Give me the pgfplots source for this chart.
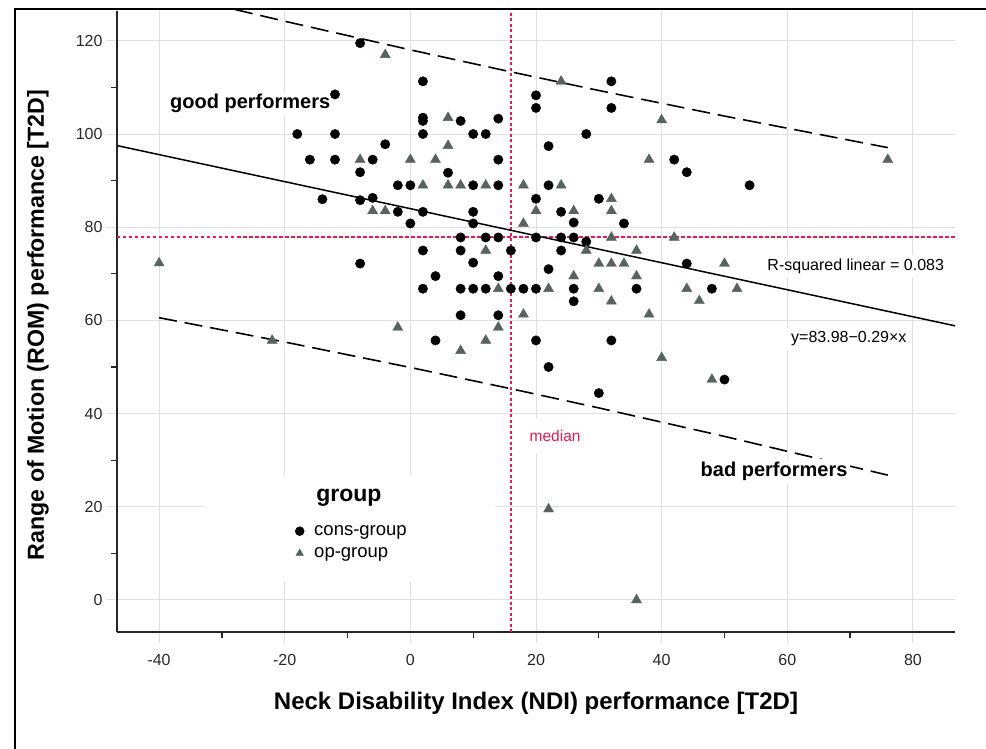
\documentclass[border=0pt]{standalone}
\usepackage{fontspec}
\setmainfont{Liberation Sans}
\usepackage{pgfplots}
\pgfplotsset{compat=1.18}
\definecolor{tri}{RGB}{86,99,94}
\definecolor{medred}{RGB}{235,25,80}
\definecolor{gridc}{RGB}{224,224,224}
\definecolor{tickc}{RGB}{40,40,40}
\pgfplotsset{
  legcirc/.style={legend image code/.code={\draw[##1, mark size=4.5bp] plot coordinates {(0bp,0bp)};}},
  legtri/.style={legend image code/.code={\draw[##1, mark size=4.3bp] plot coordinates {(0bp,0bp)};}},
}
\begin{document}
\begin{tikzpicture}
\path[use as bounding box] (-117bp,-117bp) rectangle (869bp,632bp);
\draw[black, line width=2bp] (-102bp,-130bp) -- (-102bp,623bp) -- (880bp,623bp);
\begin{axis}[
  at={(0,0)}, anchor=south west,
  scale only axis, width=838bp, height=621bp,
  xmin=-46.7, xmax=86.7, ymin=-6.87, ymax=126.4,
  axis x line*=bottom, axis y line*=left,
  axis line style={black!85, line width=1.4bp},
  xtick={-40,-20,...,80}, ytick={0,20,...,120},
  minor xtick={-30,-10,...,70}, minor ytick={10,30,...,110},
  tick align=outside,
  major tick length=11bp, minor tick length=6bp,
  major tick style={gridc, line width=1bp},
  minor tick style={black!85, line width=1.2bp},
  grid=major, major grid style={gridc, line width=1bp},
  /pgf/number format/assume math mode=true,
  ticklabel style={font=\fontsize{16bp}{19bp}\selectfont, text=tickc},
  xticklabel style={yshift=-8bp},
  xlabel={Neck Disability Index (NDI) performance [T2D]},
  ylabel={Range of Motion (ROM) performance [T2D]},
  every axis x label/.style={at={(rel axis cs:0.5,0)}, yshift=-71bp, anchor=center, font=\fontsize{24bp}{28bp}\selectfont\bfseries},
  every axis y label/.style={at={(rel axis cs:0,0.5)}, xshift=-79bp, yshift=-3.5bp, rotate=90, anchor=center, font=\fontsize{23.2bp}{27bp}\selectfont\bfseries},
  legend style={at={(axis cs:-18.36,12.4)}, anchor=west, draw=none, fill=none,
    inner sep=0pt, row sep=5bp, column sep=10bp,
    nodes={inner sep=0pt, text height=13bp, text depth=4bp},
    font=\fontsize{18.5bp}{22bp}\selectfont},
  legend cell align=left,
  clip=true,
]
% legend background
\fill[white] (axis cs:-32.7,3.9) rectangle (axis cs:13.5,26.8);
% right frame line
\draw[gridc, line width=1bp] (rel axis cs:1,0) -- (rel axis cs:1,1);
% median lines
\addplot[draw=medred, line width=1.7bp, dash pattern=on 3bp off 2.5bp, forget plot] coordinates {(16,-6.87) (16,126.4)};
\addplot[draw=medred, line width=1.8bp, dash pattern=on 3.5bp off 2.5bp, forget plot] coordinates {(-46.7,77.9) (86.7,77.9)};
% regression line
\addplot[black, line width=1.5bp, forget plot] coordinates {(-46.7,97.52) (86.7,58.84)};
% prediction interval lines
\addplot[black, line width=1.6bp, dash pattern=on 18bp off 8bp, forget plot] coordinates {
(-40,130.58) (-20,124.20) (0,118.06) (16,113.34) (30,109.34) (50,103.85) (76,97.08)};
\addplot[black, line width=1.6bp, dash pattern=on 18bp off 8bp, forget plot] coordinates {
(-40,60.58) (-20,55.36) (0,49.90) (16,45.34) (30,41.22) (50,35.11) (76,26.80)};
% cons-group
\addplot[only marks, mark=*, mark size=4.7bp, black, legcirc] coordinates {
(-8,119.5) (-12,108.5) (-18,100) (-12,100) (-4,97.8) (-16,94.5) (-12,94.5) (-6,94.5)
(-8,91.8) (-2,89) (0,89) (-14,86) (-8,85.8) (-6,86.3) (-2,83.3) (0,80.8)
(2,111.3) (2,103.5) (2,102.8) (2,100) (8,102.8) (14,103.3) (10,100) (12,100)
(14,94.5) (6,91.7) (10,89) (14,89) (22,89) (20,108.3) (20,105.6) (32,111.3)
(32,105.6) (28,100) (22,97.4) (20,86.1) (30,86.1) (24,83.3) (2,83.3) (10,83.3)
(10,80.8) (26,81) (34,80.8) (42,94.5) (44,91.8) (54,89)
(8,77.8) (12,77.8) (14,77.8) (20,77.8) (24,77.8) (26,77.8) (28,76.9)
(2,75) (8,75) (16,75) (24,75) (10,72.4) (44,72.2) (22,71) (4,69.5) (14,69.5)
(2,66.8) (8,66.8) (10,66.8) (12,66.8) (16,66.8) (18,66.8) (20,66.8) (26,66.8) (36,66.8) (48,66.8)
(26,64.1) (8,61.1) (14,61.1) (4,55.7) (20,55.7) (32,55.7) (22,50) (30,44.4) (-8,72.2) (50,47.3)
};
\addlegendentry{cons-group}
% op-group
\addplot[only marks, mark=triangle*, mark size=5.8bp, color=tri, mark options={draw=tri, fill=tri}, legtri] coordinates {
(-4,117) (-8,94.5) (0,94.5) (4,94.5) (-6,83.5) (-4,83.5) (6,103.5) (6,97.5)
(2,89) (6,89) (8,89) (12,89) (18,89) (24,89) (40,103) (24,111.3) (38,94.5) (32,86.1)
(20,83.5) (26,83.5) (32,83.5) (18,80.8) (32,77.8) (42,77.8) (12,75) (28,75) (36,75)
(30,72.2) (32,72.2) (34,72.2) (26,69.5) (36,69.5)
(14,66.8) (22,66.8) (30,66.8) (44,66.8) (52,66.8) (46,64.2) (32,64.1)
(18,61.3) (38,61.3) (14,58.5) (-2,58.5) (12,55.7) (8,53.5) (40,52)
(-40,72.3) (-22,55.7) (50,72.2) (48,47.3) (76,94.5) (22,19.5) (36,0)
};
\addlegendentry{op-group}
% annotations
\node[font=\fontsize{20bp}{24bp}\selectfont\bfseries, fill=white, inner sep=2bp] at (axis cs:-25.5,106.5) {good performers};
\node[font=\fontsize{20bp}{24bp}\selectfont\bfseries, fill=white, inner sep=3bp] at (axis cs:57.9,27.7) {bad performers};
\node[font=\fontsize{15.5bp}{18bp}\selectfont, text=medred, fill=white, inner xsep=6bp, inner ysep=12bp] at (axis cs:23.04,35.2) {median};
\node[font=\fontsize{16bp}{19bp}\selectfont, fill=white, inner sep=4bp] at (axis cs:70.9,71.5) {R-squared linear = 0.083};
\node[font=\fontsize{16bp}{19bp}\selectfont, fill=white, inner sep=4bp] at (axis cs:69.8,56.0) {y=83.98−0.29×x};
\node[font=\fontsize{23bp}{27bp}\selectfont\bfseries, anchor=west, inner sep=0pt] at (axis cs:-15.0,21.9) {group};
\end{axis}
\end{tikzpicture}
\end{document}
